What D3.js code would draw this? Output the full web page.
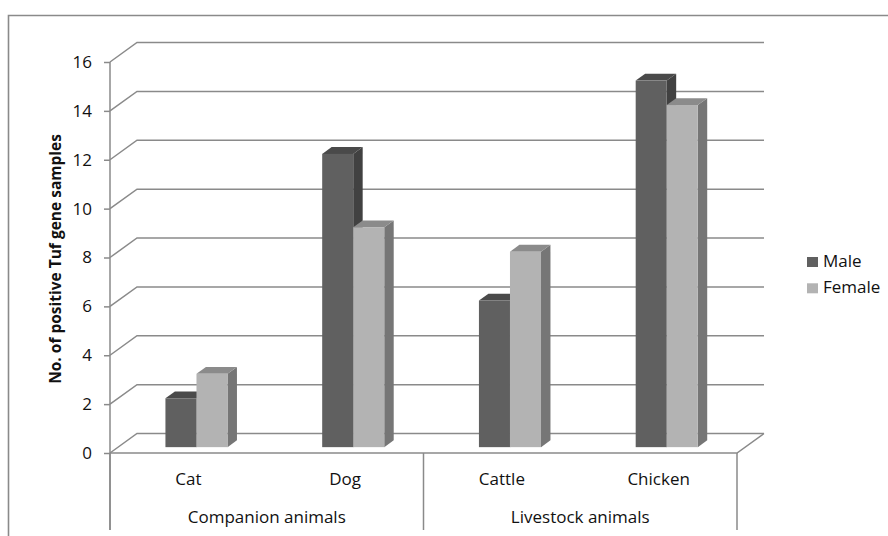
<!DOCTYPE html>
<html>
<head>
<meta charset="utf-8">
<script src="https://cdn.jsdelivr.net/npm/d3@7"></script>
<style>
  html, body { margin: 0; padding: 0; background: #fff; }
  svg { display: block; }
  text { font-family: "Open Sans", sans-serif; fill: #111; }
</style>
</head>
<body>
<svg id="chart" width="888" height="536"></svg>
<script>
// ---- data ----
const categories = ["Cat", "Dog", "Cattle", "Chicken"];
const groups = ["Companion animals", "Livestock animals"];
const groupOf = ["Companion animals", "Companion animals", "Livestock animals", "Livestock animals"];
const seriesNames = ["Male", "Female"];
const maleValues = [2, 12, 6, 15];
const femaleValues = [3, 9, 8, 14];
const yTicks = [0, 2, 4, 6, 8, 10, 12, 14, 16];
const yTitle = "No. of positive Tuf gene samples";

// ---- styling / layout ----
const palette = {
  Male:   { front: "#606060", top: "#4a4a4a", side: "#414141" },
  Female: { front: "#b3b3b3", top: "#8b8b8b", side: "#767676" }
};
const lineColor = "#8a8a8a";
const W = 888, H = 536;
const plot = { left: 110, right: 737, top: 62, bottom: 453 };
const depth = { dx: 27, dy: -19.5 };        // oblique offset of the back wall
const barDepth = { from: 0.3, to: 0.65 };   // bar slab position inside the floor depth

const svg = d3.select("#chart");

// outer chart frame
svg.append("path")
  .attr("d", `M8.5,${H + 5} V15.5 H${W + 5}`)
  .attr("fill", "none").attr("stroke", lineColor).attr("stroke-width", 1.6);

// scales
const y = d3.scaleLinear().domain([0, 16]).range([plot.bottom, plot.top]);
const x = d3.scaleBand().domain(categories).range([plot.left, plot.right]);
const xg = d3.scaleBand().domain(groups).range([plot.left, plot.right]);
const xs = d3.scaleBand().domain(seriesNames).range([0, x.bandwidth() * 0.396]);

const off = f => [depth.dx * f, depth.dy * f];

// gridlines: short slant from the axis to the back wall, then across the wall
const grid = svg.append("g");
grid.selectAll("path").data(yTicks).join("path")
  .attr("d", t => {
    const [dx, dy] = off(1);
    return `M${plot.left},${y(t)} L${plot.left + dx},${y(t) + dy} H${plot.right + dx}`;
  })
  .attr("fill", "none").attr("stroke", lineColor).attr("stroke-width", 1.5);

// floor: front edge and right slant
{
  const [dx, dy] = off(1);
  svg.append("path")
    .attr("d", `M${plot.left},${y(0)} H${plot.right} L${plot.right + dx},${y(0) + dy}`)
    .attr("fill", "none").attr("stroke", lineColor).attr("stroke-width", 1.5);
}

// y axis
const yAxis = svg.append("g")
  .attr("transform", `translate(${plot.left},0)`)
  .call(d3.axisLeft(y).tickValues(yTicks).tickSize(6).tickPadding(12).tickFormat(d3.format("d")));
yAxis.select(".domain").attr("d", `M0,${plot.top} V${H - 6}`)
  .attr("stroke", lineColor).attr("stroke-width", 1.5);
yAxis.selectAll(".tick line").attr("stroke", lineColor).attr("stroke-width", 1.5);
yAxis.selectAll(".tick text")
  .attr("font-family", "Open Sans, sans-serif").attr("font-size", 17).attr("fill", "#111");

// category axis dividers below the floor
const dividers = [plot.left, ...groups.map(g => xg(g) + xg.bandwidth())];
svg.append("g").selectAll("line").data(dividers).join("line")
  .attr("x1", d => d).attr("x2", d => d)
  .attr("y1", plot.bottom).attr("y2", H - 6)
  .attr("stroke", lineColor).attr("stroke-width", 1.5);

// category and group labels
svg.append("g").selectAll("text").data(categories).join("text")
  .attr("x", d => x(d) + x.bandwidth() / 2).attr("y", 485)
  .attr("text-anchor", "middle").attr("font-size", 17).text(d => d);
svg.append("g").selectAll("text").data(groups).join("text")
  .attr("x", d => xg(d) + xg.bandwidth() / 2).attr("y", 523)
  .attr("text-anchor", "middle").attr("font-size", 17).text(d => d);

// y axis title
svg.append("text")
  .attr("transform", `translate(61,259) rotate(-90)`)
  .attr("text-anchor", "middle").attr("font-size", 15.5).attr("font-weight", "bold")
  .text(yTitle);

// 3D bars
const rows = categories.map((c, i) => ({
  cat: c, group: groupOf[i],
  values: [{ s: "Male", v: maleValues[i] }, { s: "Female", v: femaleValues[i] }]
}));
const [fx, fy] = off(barDepth.from);
const [bx, by] = off(barDepth.to);
const dX = bx - fx, dY = by - fy;
const bars = svg.append("g");
rows.forEach(r => {
  const start = x(r.cat) + x.bandwidth() / 2 - xs.range()[1] / 2;
  r.values.forEach(d => {
    const x0 = start + xs(d.s) + fx, x1 = x0 + xs.bandwidth();
    const yb = y(0) + fy, yt = y(d.v) + fy;
    const col = palette[d.s];
    const g = bars.append("g");
    g.append("path") // side
      .attr("d", `M${x1},${yt} L${x1 + dX},${yt + dY} L${x1 + dX},${yb + dY} L${x1},${yb} Z`)
      .attr("fill", col.side);
    g.append("path") // top
      .attr("d", `M${x0},${yt} L${x0 + dX},${yt + dY} L${x1 + dX},${yt + dY} L${x1},${yt} Z`)
      .attr("fill", col.top);
    g.append("rect") // front
      .attr("x", x0).attr("y", yt).attr("width", x1 - x0).attr("height", yb - yt)
      .attr("fill", col.front);
  });
});

// legend
const legend = svg.append("g").attr("transform", "translate(807,0)");
const li = legend.selectAll("g").data(seriesNames).join("g")
  .attr("transform", (d, i) => `translate(0,${257 + i * 26.3})`);
li.append("rect").attr("width", 11).attr("height", 10).attr("fill", d => palette[d].front);
li.append("text").attr("x", 16).attr("y", 10).attr("font-size", 17).text(d => d);
</script>
</body>
</html>
